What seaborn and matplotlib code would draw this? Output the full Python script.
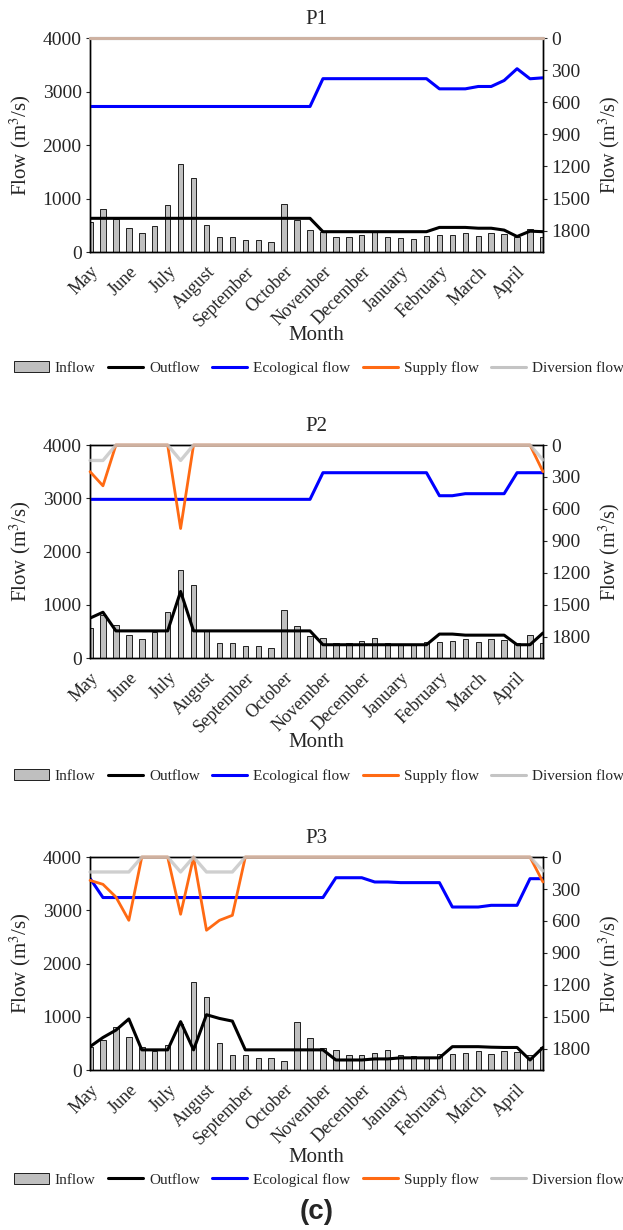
import matplotlib
matplotlib.use("Agg")
import matplotlib.pyplot as plt
from matplotlib.patches import Patch
from matplotlib.lines import Line2D
import numpy as np
import pandas as pd
import seaborn as sns

# === data (10-day periods, May -> April) ===
MONTHS = ["May", "June", "July", "August", "September", "October",
          "November", "December", "January", "February", "March", "April"]
DEKADS = list(range(36))

INFLOW = [570, 800, 620, 440, 360, 480, 870, 1650, 1380, 500, 280, 290,
          220, 230, 180, 900, 600, 420, 380, 290, 290, 320, 380, 290,
          260, 250, 300, 310, 320, 360, 300, 360, 340, 290, 430, 290]
INFLOW_P3 = [440] + INFLOW[:35]

# P1
OUT_P1 = [630] * 18 + [380] * 9 + [460, 460, 460, 445, 445, 410, 290, 390, 380]
ECO_P1 = [640] * 18 + [380] * 9 + [475, 475, 475, 453, 453, 397, 287, 381, 372]
SUP_P1 = [0] * 36
DIV_P1 = [0] * 36

# P2
OUT_P2 = [750, 860] + [510] * 5 + [1250] + [510] * 10 + [250] * 9 + \
         [450, 450] + [430] * 4 + [250, 250] + [470]
ECO_P2 = [510] * 18 + [260] * 9 + [476, 476] + [457] * 4 + [260] * 3
SUP_P2 = [250, 383] + [0] * 5 + [784] + [0] * 27 + [250]
DIV_P2 = [145, 145] + [0] * 5 + [145] + [0] * 27 + [140]

# P3
OUT_P3 = [440, 612, 750, 960, 380, 380, 380, 910, 380, 1040, 970, 920] + \
         [380] * 7 + [190] * 3 + [210, 210] + [230] * 4 + \
         [440, 440, 440, 430, 425, 425] + [190, 425]
ECO_P3 = [200] + [380] * 18 + [194] * 3 + [234, 234] + [240] * 4 + \
         [469] * 3 + [453] * 3 + [203, 203]
SUP_P3 = [219, 256, 375, 594] + [0] * 3 + [537, 0, 687, 594, 547] + [0] * 23 + [234]
DIV_P3 = [140] * 4 + [0] * 3 + [140, 0] + [140] * 3 + [0] * 23 + [130]

# === style ===
BAR_COLOR = "#bfbfbf"
OUT_COLOR = "black"
ECO_COLOR = "#0000ff"
SUP_COLOR = "#ff6a13"
DIV_COLOR = "#c4c4c4"
YLABEL = "Flow (m$^3$/s)"

sns.set_style("ticks")
plt.rcParams['font.family'] = ['Liberation Serif', 'DejaVu Serif']
plt.rcParams['mathtext.fontset'] = 'stix'


def draw_panel(fig, rect, title, inflow, outflow, eco, supply, diversion,
               month_y, legend_y):
    df = pd.DataFrame({"dekad": DEKADS, "inflow": inflow, "outflow": outflow,
                       "eco": eco, "supply": supply, "diversion": diversion})
    ax = fig.add_axes(rect)
    sns.barplot(data=df, x="dekad", y="inflow", native_scale=True, width=0.42,
                color=BAR_COLOR, saturation=1, edgecolor="black", linewidth=0.6,
                errorbar=None, ax=ax)
    sns.lineplot(data=df, x="dekad", y="outflow", color=OUT_COLOR, lw=2.2, ax=ax)
    ax.set_xlim(0, 35)
    ax.set_ylim(0, 4000)
    ax.set_yticks(np.arange(0, 4001, 1000))
    ax.set_xticks(range(0, 36, 3))
    ax.set_xticklabels(MONTHS, rotation=45, ha="right", rotation_mode="anchor",
                       fontsize=13)
    ax.tick_params(axis="x", direction="in", length=4, pad=8)
    ax.tick_params(axis="y", direction="out", length=3, width=0.8,
                   labelsize=14, pad=3)
    ax.set_xlabel("")
    ax.set_ylabel(YLABEL, fontsize=15)
    ax.yaxis.set_label_coords(-0.125, 0.5)
    ax.set_title(title, fontsize=15, pad=10)

    ax2 = ax.twinx()
    sns.lineplot(data=df, x="dekad", y="eco", color=ECO_COLOR, lw=2.2, ax=ax2)
    sns.lineplot(data=df, x="dekad", y="supply", color=SUP_COLOR, lw=2.0,
                 clip_on=False, zorder=3, ax=ax2)
    sns.lineplot(data=df, x="dekad", y="diversion", color=DIV_COLOR, lw=2.4,
                 alpha=0.8, clip_on=False, zorder=3, ax=ax2)
    ax2.set_ylim(2000, 0)
    ax2.set_yticks(np.arange(0, 1801, 300))
    ax2.tick_params(axis="y", direction="out", length=3, width=0.8,
                    labelsize=14, pad=3)
    ax2.set_ylabel(YLABEL, fontsize=14.5)
    ax2.yaxis.set_label_coords(1.118, 0.5)
    ax2.set_xlim(0, 35)
    for a in (ax, ax2):
        for s in a.spines.values():
            s.set_color("black")
            s.set_linewidth(1.0)

    fig.text(rect[0] + rect[2] / 2, month_y, "Month", fontsize=15,
             ha="center", va="center")
    handles = [Patch(facecolor=BAR_COLOR, edgecolor="black", linewidth=0.6),
               Line2D([], [], color=OUT_COLOR, lw=2.2),
               Line2D([], [], color=ECO_COLOR, lw=2.2),
               Line2D([], [], color=SUP_COLOR, lw=2.2),
               Line2D([], [], color=DIV_COLOR, lw=2.2)]
    labels = ["Inflow", "Outflow", "Ecological flow", "Supply flow", "Diversion flow"]
    fig.legend(handles, labels, loc="center", bbox_to_anchor=(0.512, legend_y),
               ncol=5, frameon=False, fontsize=11, handlelength=2.3,
               handleheight=0.7, handletextpad=0.4, columnspacing=0.8,
               borderpad=0.1)


fig = plt.figure(figsize=(6.23, 12.30), dpi=100)
draw_panel(fig, [0.1445, 0.7951, 0.727, 0.174], "P1",
           INFLOW, OUT_P1, ECO_P1, SUP_P1, DIV_P1, 0.7276, 0.7008)
draw_panel(fig, [0.1445, 0.465, 0.727, 0.1732], "P2",
           INFLOW, OUT_P2, ECO_P2, SUP_P2, DIV_P2, 0.396, 0.369)
draw_panel(fig, [0.1445, 0.130, 0.727, 0.1732], "P3",
           INFLOW_P3, OUT_P3, ECO_P3, SUP_P3, DIV_P3, 0.0593, 0.0407)
fig.text(0.508, 0.0146, "(c)", fontsize=20, fontweight="bold",
         family="Liberation Sans", ha="center", va="center")

fig.savefig("out.png", dpi=100)
